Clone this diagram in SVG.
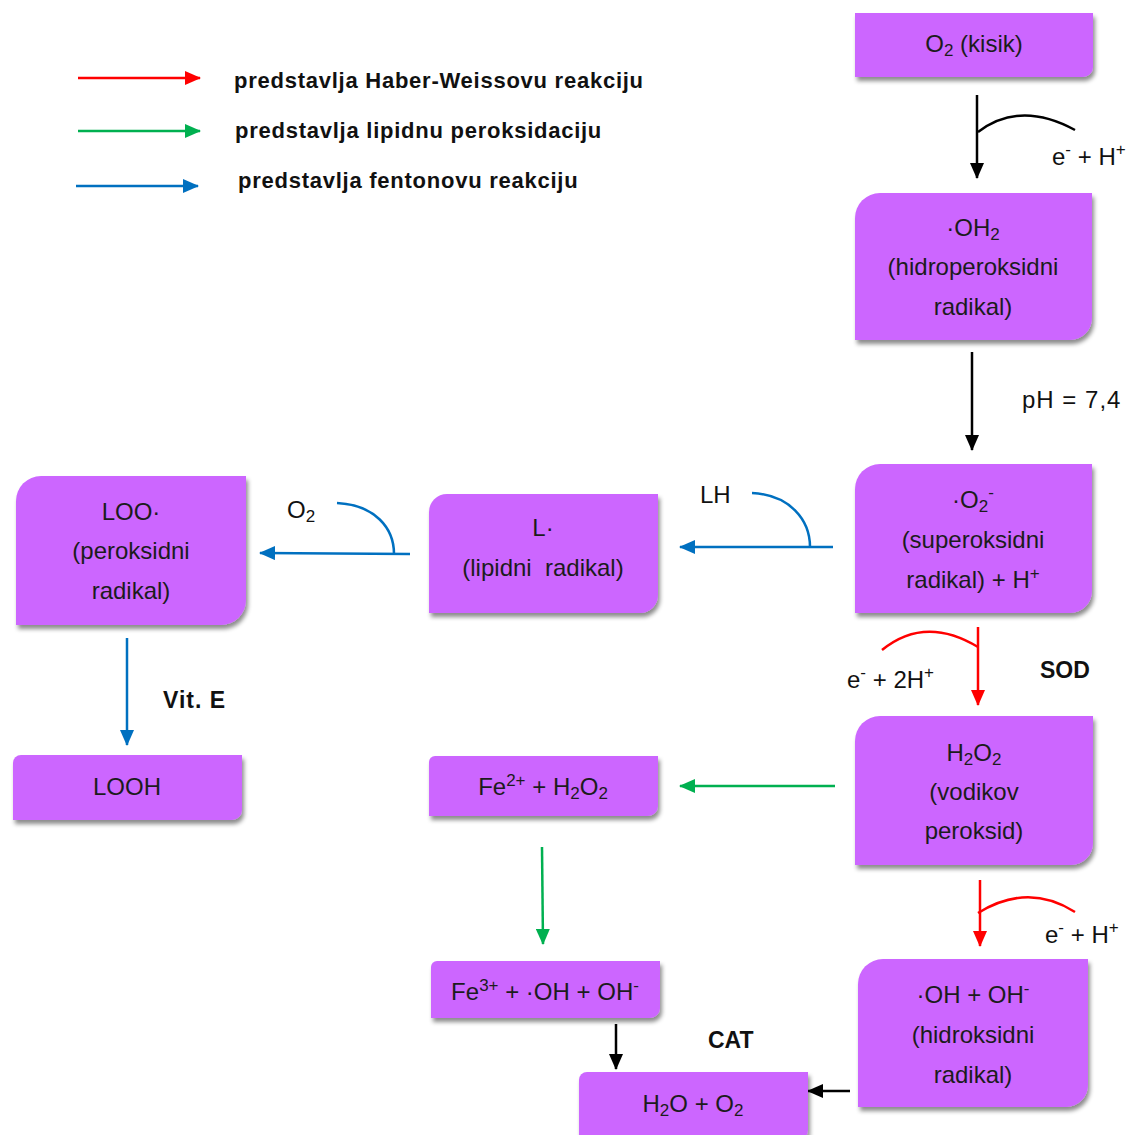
<svg xmlns="http://www.w3.org/2000/svg" width="1134" height="1135" viewBox="0 0 1134 1135">
<style>
.n{fill:#CC66FF;filter:url(#sh)}
.t{font-family:"Liberation Sans",Arial,sans-serif;font-size:24px;fill:#1c1c1c;text-anchor:middle}
.l{font-family:"Liberation Sans",Arial,sans-serif;font-size:24px;fill:#111}
.b{font-family:"Liberation Sans",Arial,sans-serif;font-size:23px;font-weight:bold;fill:#111}
.lg{font-family:"Liberation Sans",Arial,sans-serif;font-size:22px;font-weight:bold;fill:#111;letter-spacing:0.75px}
.s{font-size:17px}
.k{stroke:#000;stroke-width:2.5;fill:none}
.r{stroke:#FF0000;stroke-width:2.5;fill:none}
.g{stroke:#00B050;stroke-width:2.5;fill:none}
.u{stroke:#0070C0;stroke-width:2.5;fill:none}
</style>
<defs>
<filter id="sh" x="-10%" y="-10%" width="125%" height="130%">
<feDropShadow dx="2" dy="4" stdDeviation="2" flood-color="#000" flood-opacity="0.45"/>
</filter>
<marker id="ak" markerUnits="userSpaceOnUse" markerWidth="16" markerHeight="14" refX="15" refY="7" orient="auto"><path d="M0,0 L16,7 L0,14 Z" fill="#000"/></marker>
<marker id="ar" markerUnits="userSpaceOnUse" markerWidth="16" markerHeight="14" refX="15" refY="7" orient="auto"><path d="M0,0 L16,7 L0,14 Z" fill="#FF0000"/></marker>
<marker id="ag" markerUnits="userSpaceOnUse" markerWidth="16" markerHeight="14" refX="15" refY="7" orient="auto"><path d="M0,0 L16,7 L0,14 Z" fill="#00B050"/></marker>
<marker id="au" markerUnits="userSpaceOnUse" markerWidth="16" markerHeight="14" refX="15" refY="7" orient="auto"><path d="M0,0 L16,7 L0,14 Z" fill="#0070C0"/></marker>
</defs>
<rect width="1134" height="1135" fill="#fff"/>

<g id="legend">
<line class="r" x1="78" y1="78" x2="200" y2="78" marker-end="url(#ar)"/>
<line class="g" x1="78" y1="131" x2="200" y2="131" marker-end="url(#ag)"/>
<line class="u" x1="76" y1="186" x2="198" y2="186" marker-end="url(#au)"/>
<text class="lg" x="234" y="88">predstavlja Haber-Weissovu reakciju</text>
<text class="lg" x="235" y="138">predstavlja lipidnu peroksidaciju</text>
<text class="lg" x="238" y="188">predstavlja fentonovu reakciju</text>
</g>

<g id="connectors">
<line class="k" x1="977" y1="95" x2="977" y2="178" marker-end="url(#ak)"/>
<path class="k" d="M978,132 Q1020,100 1075,130" stroke-width="2"/>
<line class="k" x1="972" y1="352" x2="972" y2="450" marker-end="url(#ak)"/>
<line class="r" x1="978" y1="627" x2="978" y2="705" marker-end="url(#ar)"/>
<path class="r" d="M882,650 Q925,615 978,647" stroke-width="2"/>
<line class="r" x1="980" y1="880" x2="980" y2="946" marker-end="url(#ar)"/>
<path class="r" d="M978,913 Q1028,882 1075,912" stroke-width="2"/>
<line class="u" x1="833" y1="547" x2="680" y2="547" marker-end="url(#au)"/>
<path class="u" d="M752,493 C790,495 810,520 810,547"/>
<line class="u" x1="410" y1="554" x2="260" y2="553" marker-end="url(#au)"/>
<path class="u" d="M337,503 C375,505 394,528 394,554"/>
<line class="u" x1="127" y1="638" x2="127" y2="745" marker-end="url(#au)"/>
<line class="g" x1="835" y1="786" x2="680" y2="786" marker-end="url(#ag)"/>
<line class="g" x1="542" y1="847" x2="543" y2="944" marker-end="url(#ag)"/>
<line class="k" x1="616" y1="1024" x2="616" y2="1069" marker-end="url(#ak)"/>
<line class="k" x1="850" y1="1091" x2="808" y2="1091" marker-end="url(#ak)"/>
</g>

<g id="labels">
<text class="l" x="1052" y="165">e<tspan class="s" dy="-10">-</tspan><tspan dy="10"> + H</tspan><tspan class="s" dy="-10">+</tspan></text>
<text class="l" x="1022" y="408" style="letter-spacing:1px">pH = 7,4</text>
<text class="l" x="847" y="688">e<tspan class="s" dy="-10">-</tspan><tspan dy="10"> + 2H</tspan><tspan class="s" dy="-10">+</tspan></text>
<text class="b" x="1040" y="678">SOD</text>
<text class="l" x="1045" y="943">e<tspan class="s" dy="-10">-</tspan><tspan dy="10"> + H</tspan><tspan class="s" dy="-10">+</tspan></text>
<text class="b" x="708" y="1048">CAT</text>
<text class="b" x="163" y="708" style="letter-spacing:1px">Vit. E</text>
<text class="l" x="700" y="503">LH</text>
<text class="l" x="287" y="518">O<tspan class="s" dy="4">2</tspan></text>
</g>

<g id="n-o2">
<path class="n" d="M855,13 H1093 V67 A10,10 0 0 1 1083,77 H855 Z"/>
<text class="t" x="974" y="52">O<tspan class="s" dy="4">2</tspan><tspan dy="-4"> (kisik)</tspan></text>
</g>

<g id="n-oh2">
<path class="n" d="M880,193 H1092 V318 A22,22 0 0 1 1070,340 H855 V218 A25,25 0 0 1 880,193 Z"/>
<text class="t" x="973" y="236">·OH<tspan class="s" dy="4">2</tspan></text>
<text class="t" x="973" y="275">(hidroperoksidni</text>
<text class="t" x="973" y="315">radikal)</text>
</g>

<g id="n-o2m">
<path class="n" d="M880,464 H1092 V591 A22,22 0 0 1 1070,613 H855 V489 A25,25 0 0 1 880,464 Z"/>
<text class="t" x="973" y="508">·O<tspan class="s" dy="4">2</tspan><tspan class="s" dy="-14">-</tspan></text>
<text class="t" x="973" y="548">(superoksidni</text>
<text class="t" x="973" y="588">radikal) + H<tspan class="s" dy="-9">+</tspan></text>
</g>

<g id="n-h2o2">
<path class="n" d="M880,716 H1093 V843 A22,22 0 0 1 1071,865 H855 V741 A25,25 0 0 1 880,716 Z"/>
<text class="t" x="974" y="761">H<tspan class="s" dy="4">2</tspan><tspan dy="-4">O</tspan><tspan class="s" dy="4">2</tspan></text>
<text class="t" x="974" y="800">(vodikov</text>
<text class="t" x="974" y="839">peroksid)</text>
</g>

<g id="n-oh">
<path class="n" d="M883,959 H1088 V1085 A22,22 0 0 1 1066,1107 H858 V984 A25,25 0 0 1 883,959 Z"/>
<text class="t" x="973" y="1003">·OH + OH<tspan class="s" dy="-9">-</tspan></text>
<text class="t" x="973" y="1043">(hidroksidni</text>
<text class="t" x="973" y="1083">radikal)</text>
</g>

<g id="n-h2o">
<path class="n" d="M587,1072 H808 V1130 A10,10 0 0 1 798,1140 H579 V1080 A8,8 0 0 1 587,1072 Z"/>
<text class="t" x="693" y="1112">H<tspan class="s" dy="4">2</tspan><tspan dy="-4">O + O</tspan><tspan class="s" dy="4">2</tspan></text>
</g>

<g id="n-fe3">
<path class="n" d="M437,961 H660 V1008 A10,10 0 0 1 650,1018 H431 V967 A6,6 0 0 1 437,961 Z"/>
<text class="t" x="545" y="1000">Fe<tspan class="s" dy="-9">3+</tspan><tspan dy="9"> + ·OH + OH</tspan><tspan class="s" dy="-9">-</tspan></text>
</g>

<g id="n-fe2">
<path class="n" d="M435,756 H658 V806 A10,10 0 0 1 648,816 H429 V762 A6,6 0 0 1 435,756 Z"/>
<text class="t" x="543" y="795">Fe<tspan class="s" dy="-9">2+</tspan><tspan dy="9"> + H</tspan><tspan class="s" dy="4">2</tspan><tspan dy="-4">O</tspan><tspan class="s" dy="4">2</tspan></text>
</g>

<g id="n-l">
<path class="n" d="M447,494 H658 V595 A18,18 0 0 1 640,613 H429 V512 A18,18 0 0 1 447,494 Z"/>
<text class="t" x="543" y="536">L·</text>
<text class="t" x="543" y="576">(lipidni&#160; radikal)</text>
</g>

<g id="n-loo">
<path class="n" d="M41,476 H246 V600 A25,25 0 0 1 221,625 H16 V501 A25,25 0 0 1 41,476 Z"/>
<text class="t" x="131" y="520">LOO·</text>
<text class="t" x="131" y="559">(peroksidni</text>
<text class="t" x="131" y="599">radikal)</text>
</g>

<g id="n-looh">
<path class="n" d="M21,755 H242 V810 A10,10 0 0 1 232,820 H13 V763 A8,8 0 0 1 21,755 Z"/>
<text class="t" x="127" y="795">LOOH</text>
</g>
</svg>
